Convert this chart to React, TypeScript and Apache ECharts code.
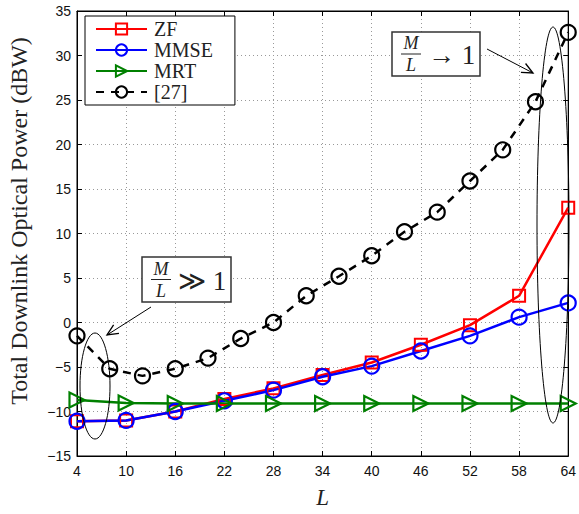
import React, { useEffect, useRef } from "react";
import * as echarts from "echarts";

const xTicks = [4, 10, 16, 22, 28, 34, 40, 46, 52, 58, 64];
const zfValues = [-11.1, -11.0, -10.0, -8.6, -7.4, -5.9, -4.5, -2.5, -0.3, 3.0, 12.9];
const mmseValues = [-11.1, -11.0, -10.0, -8.8, -7.6, -6.1, -4.9, -3.2, -1.5, 0.6, 2.2];
const mrtValues = [-8.7, -9.05, -9.1, -9.1, -9.1, -9.1, -9.1, -9.1, -9.1, -9.1, -9.1];
const refX = [4, 8, 12, 16, 20, 24, 28, 32, 36, 40, 44, 48, 52, 56, 60, 64];
const refValues = [-1.5, -5.2, -6.0, -5.2, -4.0, -1.8, 0.0, 3.0, 5.2, 7.5, 10.2, 12.4, 15.9, 19.4, 24.8, 32.6];

const SERIF = "Liberation Serif";
const SANS = "Liberation Sans";

function arrow(x1: number, y1: number, x2: number, y2: number) {
  const dx = x2 - x1, dy = y2 - y1;
  const len = Math.hypot(dx, dy);
  const ux = dx / len, uy = dy / len;
  const hl = 11, hw = 5;
  const bx = x2 - ux * hl, by = y2 - uy * hl;
  const px = -uy, py = ux;
  return [
    { type: "line", shape: { x1, y1, x2, y2 }, style: { stroke: "#000", lineWidth: 1 }, z: 100 },
    {
      type: "polyline",
      shape: { points: [[bx + px * hw, by + py * hw], [x2, y2], [bx - px * hw, by - py * hw]] },
      style: { stroke: "#000", lineWidth: 1.3, fill: null },
      z: 100,
    },
  ];
}

function fracBox(x: number, y: number, w: number, h: number, rel: string) {
  const fx = x + 19;
  const cy = y + h / 2;
  return [
    { type: "rect", shape: { x, y, width: w, height: h }, style: { fill: "#fff", stroke: "#333", lineWidth: 1.5 }, z: 100 },
    { type: "text", x: fx, y: cy - 2, style: { text: "M", fontFamily: SERIF, fontStyle: "italic", fontSize: 18, fill: "#222", align: "center", verticalAlign: "bottom" }, z: 101 },
    { type: "line", shape: { x1: fx - 10, y1: cy, x2: fx + 10, y2: cy }, style: { stroke: "#222", lineWidth: 1 }, z: 101 },
    { type: "text", x: fx, y: cy + 2, style: { text: "L", fontFamily: SERIF, fontStyle: "italic", fontSize: 18, fill: "#222", align: "center", verticalAlign: "top" }, z: 101 },
    { type: "text", x: fx + 17, y: cy + 1, style: { text: rel, fontFamily: SERIF, fontSize: 27, fill: "#222", align: "left", verticalAlign: "middle" }, z: 101 },
  ];
}

const minus = (v: number) => String(v).replace("-", "\u2212");

export default function App() {
  const ref = useRef<HTMLDivElement>(null);
  useEffect(() => {
    if (!ref.current) return;
    const chart = echarts.init(ref.current, undefined, { renderer: "svg" });
    const gridLine = { show: true, lineStyle: { color: "#999", type: [1, 3], width: 1 } };
    const pair = (xs: number[], ys: number[]) => xs.map((x, i) => [x, ys[i]]);
    chart.setOption({
      animation: false,
      backgroundColor: "#fff",
      grid: { left: 77, right: 10, top: 11, bottom: 52, show: true, borderColor: "#000", borderWidth: 1 },
      legend: {
        orient: "vertical",
        left: 85,
        top: 16,
        backgroundColor: "#fff",
        borderColor: "#000",
        borderWidth: 1,
        borderRadius: 0,
        padding: [3, 22, 3, 10],
        itemGap: 1,
        itemWidth: 51,
        itemHeight: 14,
        textStyle: { fontFamily: SERIF, fontSize: 20, lineHeight: 20, color: "#222", padding: [0, 0, 0, 2] },
        data: ["ZF", "MMSE", "MRT", "[27]"],
      },
      xAxis: [
        {
          type: "value",
          min: 4,
          max: 64,
          name: "L",
          nameLocation: "middle",
          nameGap: 30,
          nameTextStyle: { fontFamily: SERIF, fontStyle: "italic", fontSize: 23, color: "#222" },
          axisLine: { show: true, onZero: false, lineStyle: { color: "#000", width: 1 } },
          axisTick: { show: true, inside: true, length: 5, customValues: xTicks, lineStyle: { color: "#000" } },
          axisLabel: { customValues: xTicks, fontFamily: SANS, fontSize: 14, color: "#111", margin: 8 },
          splitLine: gridLine,
        },
        {
          type: "value",
          min: 4,
          max: 64,
          position: "top",
          axisLine: { show: true, onZero: false, lineStyle: { color: "#000" } },
          axisTick: { show: true, inside: true, length: 5, customValues: xTicks, lineStyle: { color: "#000" } },
          axisLabel: { show: false },
          splitLine: { show: false },
        },
      ],
      yAxis: [
        {
          type: "value",
          min: -15,
          max: 35,
          interval: 5,
          axisLine: { show: true, onZero: false, lineStyle: { color: "#000" } },
          axisTick: { show: true, inside: true, length: 5, lineStyle: { color: "#000" } },
          axisLabel: { fontFamily: SANS, fontSize: 14, color: "#111", margin: 6, formatter: minus },
          splitLine: gridLine,
        },
        {
          type: "value",
          min: -15,
          max: 35,
          interval: 5,
          position: "right",
          axisLine: { show: true, onZero: false, lineStyle: { color: "#000" } },
          axisTick: { show: true, inside: true, length: 5, lineStyle: { color: "#000" } },
          axisLabel: { show: false },
          splitLine: { show: false },
        },
      ],
      series: [
        {
          name: "ZF",
          type: "line",
          data: pair(xTicks, zfValues),
          symbol: "rect",
          symbolSize: 12,
          lineStyle: { color: "#ff0000", width: 2.5 },
          itemStyle: { color: "rgba(0,0,0,0)", borderColor: "#ff0000", borderWidth: 2 },
        },
        {
          name: "MMSE",
          type: "line",
          data: pair(xTicks, mmseValues),
          symbol: "circle",
          symbolSize: 15,
          lineStyle: { color: "#0000ff", width: 2.5 },
          itemStyle: { color: "rgba(0,0,0,0)", borderColor: "#0000ff", borderWidth: 2.2 },
        },
        {
          name: "MRT",
          type: "line",
          data: pair(xTicks, mrtValues),
          symbol: "triangle",
          symbolRotate: -90,
          symbolSize: 15,
          lineStyle: { color: "#008000", width: 2.5 },
          itemStyle: { color: "rgba(0,0,0,0)", borderColor: "#008000", borderWidth: 2.2 },
        },
        {
          name: "[27]",
          type: "line",
          data: pair(refX, refValues),
          symbol: "circle",
          symbolSize: 15,
          lineStyle: { color: "#000", width: 2.5, type: [8, 7] },
          itemStyle: { color: "rgba(0,0,0,0)", borderColor: "#000", borderWidth: 2.2 },
        },
      ],
      graphic: [
        {
          type: "text",
          x: 19,
          y: 221,
          rotation: Math.PI / 2,
          style: { text: "Total Downlink Optical Power (dBW)", fontFamily: SERIF, fontSize: 24, fill: "#222", align: "center", verticalAlign: "middle" },
        },
        { type: "ellipse", shape: { cx: 95, cy: 386, rx: 15, ry: 53 }, style: { stroke: "#000", fill: null, lineWidth: 1 }, z: 100 },
        { type: "ellipse", shape: { cx: 553, cy: 225, rx: 16, ry: 198 }, style: { stroke: "#000", fill: null, lineWidth: 1 }, z: 100 },
        ...fracBox(142, 257, 89, 45, "≫ 1"),
        ...fracBox(392, 32, 88, 44, "→ 1"),
        ...arrow(151, 307, 107, 335),
        ...arrow(487, 49, 533, 73),
      ],
    });
    return () => chart.dispose();
  }, []);
  return <div ref={ref} style={{ position: "absolute", left: 0, top: 0, width: 579, height: 514 }} />;
}
